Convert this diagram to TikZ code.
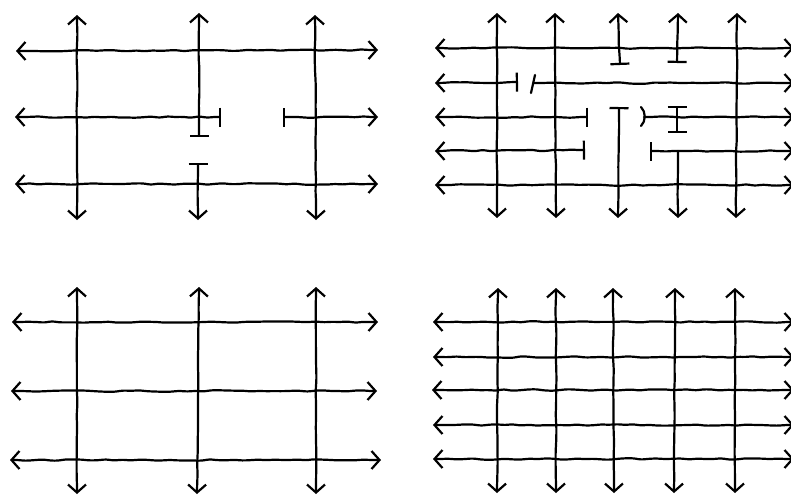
\documentclass[tikz,border=0pt]{standalone}
\usetikzlibrary{arrows.meta,decorations.pathmorphing}
\begin{document}
\begin{tikzpicture}[x=1pt,y=-1pt,
  pen/.style={line width=2.2pt, line cap=round, line join=round, black},
  hw/.style={pen, decorate, decoration={random steps, segment length=8pt, amplitude=0.8pt, pre length=8pt, post length=8pt}, rounded corners=3pt},
  vw/.style={pen, decorate, decoration={random steps, segment length=12pt, amplitude=0.5pt, pre length=8pt, post length=8pt}, rounded corners=4pt},
  >={Straight Barb[length=8pt,width=18pt]},
  mybar/.tip={Bar[width=19pt]}]
\pgfmathsetseed{11}
\clip (0,0) rectangle (791,496);
\fill[white] (0,0) rectangle (791,496);
% ---------- top left ----------
\draw[hw,<->] (16,51) -- (378,50);
\draw[hw,<-mybar] (15,117) -- (221,117);
\draw[hw,mybar->] (283,117) -- (378,117);
\draw[hw,<->] (15,184) -- (378,184);
\draw[vw,<->] (77,15) -- (77,220);
\draw[vw,<-mybar] (199,13) -- (199,137);
\draw[vw,mybar->] (198,163) -- (198,220);
\draw[vw,<->] (315,15) -- (316,220);
% ---------- top right ----------
\draw[hw,<->] (435,48) -- (794,48);
\draw[hw,<-mybar] (435,83) -- (518,82);
\draw[hw,->] (534,83) -- (794,83);
\draw[pen] (531,93) -- (535,75);
\draw[hw,<-mybar] (435,117) -- (588,117);
\draw[hw,->] (644,117) -- (794,117);
\draw[pen] (641,107) .. controls (646,112) and (646,121) .. (641,126);
\draw[hw,<-mybar] (435,151) -- (585,150);
\draw[hw,mybar->] (650,151) -- (794,151);
\draw[hw,<->] (435,185) -- (794,185);
\draw[vw,<->] (497,13) -- (497,218);
\draw[vw,<->] (555,13) -- (556,218);
\draw[vw,<-mybar] (618,13) -- (620,65);
\draw[vw,mybar->] (619,107) -- (618,218);
\draw[vw,<-mybar] (678,13) -- (677,63);
\draw[pen,mybar-mybar] (677,106) -- (677,133);
\draw[vw,->] (678,151) -- (678,218);
\draw[vw,<->] (737,13) -- (736,218);
% ---------- bottom left ----------
\draw[hw,<->] (12,322) -- (378,322);
\draw[hw,<->] (11,391) -- (377,391);
\draw[hw,<->] (10,460) -- (381,460);
\draw[vw,<->] (77,287) -- (77,494);
\draw[vw,<->] (199,287) -- (197,494);
\draw[vw,<->] (316,287) -- (316,494);
% ---------- bottom right ----------
\draw[hw,<->] (433,322) -- (794,322);
\draw[hw,<->] (433,357) -- (794,357);
\draw[hw,<->] (432,390) -- (794,390);
\draw[hw,<->] (433,425) -- (794,425);
\draw[hw,<->] (433,459) -- (794,459);
\draw[vw,<->] (498,288) -- (497,493);
\draw[vw,<->] (556,288) -- (556,493);
\draw[vw,<->] (613,288) -- (614,493);
\draw[vw,<->] (675,288) -- (674,493);
\draw[vw,<->] (735,288) -- (735,493);
\end{tikzpicture}
\end{document}
